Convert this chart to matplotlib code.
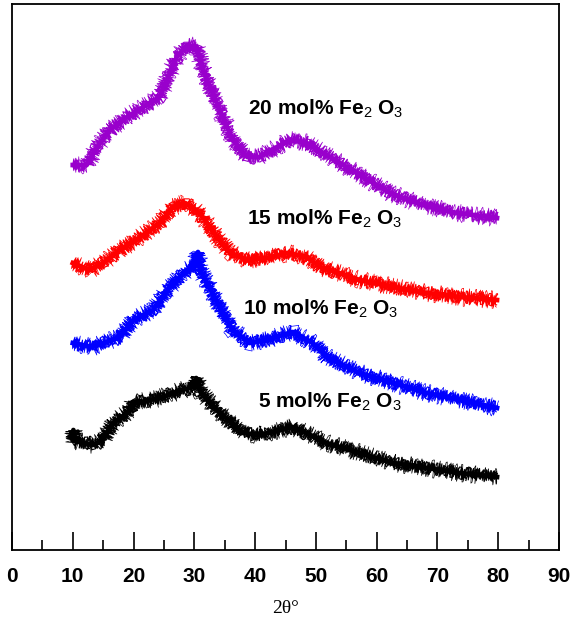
import matplotlib
matplotlib.use("Agg")
import matplotlib.pyplot as plt

# 2-theta positions and relative intensities (a.u., stacked) for each glass
theta_5 = [10.0, 10.1, 10.3, 13.3, 15.0, 16.6, 19.6, 19.9, 20.4, 24.3, 28.0, 29.8, 30.3, 31.0,
           33.7, 38.0, 40.8, 46.2, 51.8, 57.2, 62.7, 68.3, 73.7, 79.8]
int_5 = [110, 120, 109, 105, 110, 127, 140, 148, 147, 152, 160, 163, 172, 158,
         140, 117, 115, 123, 107, 97, 87, 82, 77, 73]

theta_10 = [10.0, 13.3, 17.8, 19.9, 23.2, 26.0, 28.8, 30.1, 30.6, 30.9, 32.1, 34.2, 36.3,
            39.1, 41.9, 46.2, 49.5, 51.8, 57.2, 62.7, 68.3, 73.7, 79.8]
int_10 = [207, 203, 213, 230, 240, 263, 280, 283, 298, 280, 267, 243, 220,
          207, 210, 218, 207, 193, 177, 167, 157, 150, 142]

theta_15 = [10.0, 12.8, 15.0, 17.8, 21.1, 24.3, 26.5, 28.5, 29.8, 31.4, 33.7, 35.9, 38.7,
            41.9, 45.2, 48.5, 50.7, 57.2, 62.7, 68.3, 73.7, 79.8]
int_15 = [287, 280, 287, 300, 313, 327, 343, 347, 342, 333, 313, 297, 290,
          292, 297, 293, 283, 270, 263, 257, 253, 250]

theta_20 = [10.0, 12.3, 14.0, 16.1, 18.9, 22.7, 24.3, 25.5, 27.1, 28.8, 30.4, 31.4, 33.7,
            36.3, 38.7, 40.8, 43.6, 45.7, 48.5, 51.2, 56.7, 62.2, 67.6, 73.2, 79.8]
int_20 = [385, 385, 403, 420, 433, 447, 453, 470, 493, 505, 503, 480, 447,
          410, 393, 393, 403, 410, 407, 397, 377, 357, 345, 337, 332]

labels = ["5 mol% Fe$_2$ O$_3$", "10 mol% Fe$_2$ O$_3$",
          "15 mol% Fe$_2$ O$_3$", "20 mol% Fe$_2$ O$_3$"]
label_x = [40.5, 38.0, 38.6, 38.8]
label_y = [142, 235, 325, 435]
colors = ["black", "#0000ff", "#ff0000", "#9900cc"]

# (scale px, wiggle length px, randomness, linewidth) for the jagged overlays
jitter = [(6, 0.1, 2, 0.8), (7, 1, 1.5, 0.8), (5, 0.5, 6, 0.8), (4, 2, 10, 0.8),
          (9, 0.3, 3, 0.5)]

plt.rcParams["font.family"] = ["Liberation Sans", "DejaVu Sans"]
plt.rcParams["mathtext.fontset"] = "custom"
plt.rcParams["mathtext.rm"] = "Liberation Sans"
plt.rcParams["mathtext.default"] = "rm"

fig = plt.figure(figsize=(5.71, 6.21), dpi=100)
ax = fig.add_axes([12 / 571, 71 / 621, 547 / 571, 546 / 621])

series = [(theta_5, int_5), (theta_10, int_10), (theta_15, int_15), (theta_20, int_20)]
for (t, y), c in zip(series, colors):
    ax.plot(t, y, color=c, lw=3.4, solid_joinstyle="round")
    for s, l, r, w in jitter:
        ln, = ax.plot(t, y, color=c, lw=w)
        ln.set_sketch_params(scale=s, length=l, randomness=r)

for txt, lx, ly in zip(labels, label_x, label_y):
    ax.text(lx, ly, txt, fontsize=15, fontweight="bold", ha="left", va="baseline")

ax.set_xlim(0, 90)
ax.set_ylim(0, 546)
ax.set_xticks(range(0, 91, 10))
ax.set_xticks(range(5, 90, 10), minor=True)
ax.set_yticks([])
ax.tick_params(axis="x", which="major", direction="in", length=13, width=1.2,
               pad=12, labelsize=15, top=False)
ax.tick_params(axis="x", which="minor", direction="in", length=7, width=1.2, top=False)
for lab in ax.get_xticklabels():
    lab.set_fontweight("bold")
for sp in ax.spines.values():
    sp.set_linewidth(1.3)

ax.set_xlabel("2θ°", family="Liberation Serif", fontsize=14, labelpad=10)

fig.savefig("out.png", dpi=100)
